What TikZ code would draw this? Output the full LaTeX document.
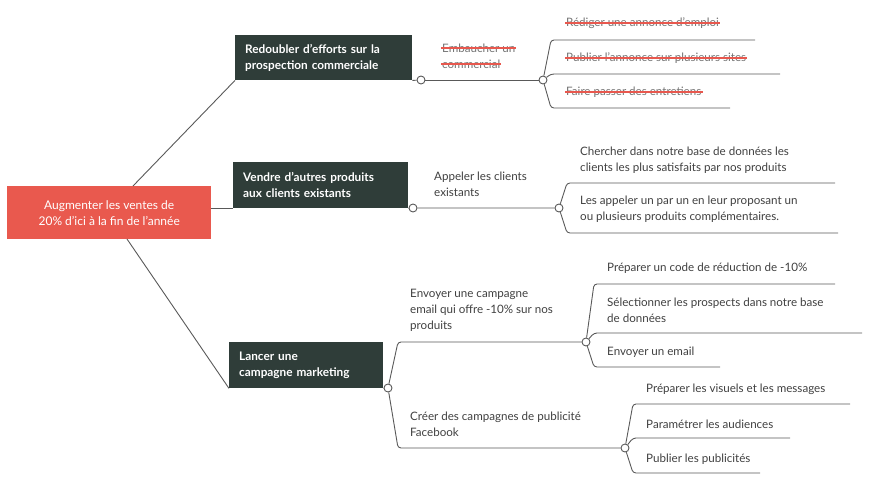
\documentclass[tikz,border=0pt]{standalone}
\usepackage{fontspec}
\setmainfont{Lato}
\begin{document}
\begin{tikzpicture}[x=1pt,y=-1pt,
  line/.style={draw=black!65,line width=0.9pt},
  dot/.style={circle,draw=black!65,line width=0.9pt,fill=white,minimum size=8pt,inner sep=0pt},
  box/.style={fill=darkbox,text=white,font=\fontsize{11.8}{16}\selectfont\bfseries,align=left,inner sep=0pt,anchor=north west},
  txt/.style={text=black!75,font=\fontsize{11.6}{16}\selectfont,anchor=west,inner sep=0pt,align=left},
  st/.style={text=black!55,font=\fontsize{11.6}{16}\selectfont,anchor=west,inner sep=0pt}]
\definecolor{darkbox}{HTML}{2F3D39}
\definecolor{redbox}{HTML}{E9594E}
\definecolor{strike}{HTML}{E8584E}
\useasboundingbox (0,0) rectangle (880,480);
% root
\node[fill=redbox,text=white,minimum width=204pt,minimum height=53pt,anchor=north west,align=center,inner sep=0pt,font=\fontsize{12}{16}\selectfont] (root) at (7,186) {Augmenter les ventes de\\20\% d’ici à la fin de l’année};
% level 1
\node[box,minimum width=177pt,minimum height=45pt,text width=165pt] (b1) at (235,35) {\hspace*{4pt}Redoubler d'efforts sur la\\\hspace*{4pt}prospection commerciale};
\node[box,minimum width=175pt,minimum height=46pt,text width=163pt] (b2) at (233,162) {\hspace*{4pt}Vendre d'autres produits\\\hspace*{4pt}aux clients existants};
\node[box,minimum width=154pt,minimum height=46pt,text width=142pt] (b3) at (229,342) {\hspace*{4pt}Lancer une\\\hspace*{4pt}campagne marketing};
\coordinate (r1) at (133,186);\coordinate (r3) at (127,239);
\draw[line] (r1) -- (b1.south west);
\draw[line] (root.east |- b2.south west) -- (b2.south west);
\draw[line] (r3) -- (b3.south west);
% branch 1
\node[dot] (c1) at (421,80) {};
\node[dot] (d1) at (543,80) {};
\draw[line] (b1.south east) -- (c1);
\draw[line] (c1) -- (d1);
\node[st] (e1) at (442,48) {Embaucher un};
\node[st] (e2) at (442,64) {commercial};
\foreach \n in {e1,e2}{\draw[strike,line width=1.4pt] ([xshift=-1pt]\n.west) -- ([xshift=1pt]\n.east);}
\coordinate (t1) at (755,40);\coordinate (t2) at (780,74);\coordinate (t3) at (730,108);
\draw[line,rounded corners=3pt] (d1) -- (551,40) -- (t1);
\draw[line,rounded corners=3pt] (d1) -- (551,74) -- (t2);
\draw[line,rounded corners=3pt] (d1) -- (551,108) -- (t3);
\node[st] (s1) at (566,23) {Rédiger une annonce d'emploi};
\node[st] (s2) at (566,58) {Publier l'annonce sur plusieurs sites};
\node[st] (s3) at (566,92) {Faire passer des entretiens};
\foreach \n in {s1,s2,s3}{\draw[strike,line width=1.4pt] ([xshift=-1pt]\n.west) -- ([xshift=1pt]\n.east);}
% branch 2
\node[dot] (c2) at (413,208) {};
\node[dot] (d2) at (559,208) {};
\draw[line] (b2.south east) -- (c2) -- (d2);
\node[txt] at (434,184) {Appeler les clients\\existants};
\coordinate (u1) at (835,183);\coordinate (u2) at (838,233);
\draw[line,rounded corners=3pt] (d2) -- (567,183) -- (u1);
\draw[line,rounded corners=3pt] (d2) -- (567,233) -- (u2);
\node[txt] at (580,160) {Chercher dans notre base de données les\\clients les plus satisfaits par nos produits};
\node[txt] at (580,209) {Les appeler un par un en leur proposant un\\ou plusieurs produits complémentaires.};
% branch 3
\node[dot] (c3) at (388,388) {};
\node[dot] (d3) at (586,342) {};
\node[dot] (d4) at (625,448) {};
\draw[line] (b3.south east) -- (c3);
\draw[line,rounded corners=3pt] (c3) -- (398,342) -- (d3);
\draw[line,rounded corners=3pt] (c3) -- (398,448) -- (d4);
\node[txt] at (410,310) {Envoyer une campagne\\email qui offre -10\% sur nos\\produits};
\node[txt] at (410,424) {Créer des campagnes de publicité\\Facebook};
\coordinate (v1) at (835,284);\coordinate (v2) at (862,333);\coordinate (v3) at (720,367);
\draw[line,rounded corners=3pt] (d3) -- (594,284) -- (v1);
\draw[line,rounded corners=3pt] (d3) -- (594,333) -- (v2);
\draw[line,rounded corners=3pt] (d3) -- (594,367) -- (v3);
\node[txt] at (607,268) {Préparer un code de réduction de -10\%};
\node[txt] at (607,310) {Sélectionner les prospects dans notre base\\de données};
\node[txt] at (607,352) {Envoyer un email};
\coordinate (w1) at (850,404);\coordinate (w2) at (790,438);\coordinate (w3) at (760,473);
\draw[line,rounded corners=3pt] (d4) -- (633,404) -- (w1);
\draw[line,rounded corners=3pt] (d4) -- (633,438) -- (w2);
\draw[line,rounded corners=3pt] (d4) -- (633,473) -- (w3);
\node[txt] at (646,389) {Préparer les visuels et les messages};
\node[txt] at (646,424) {Paramétrer les audiences};
\node[txt] at (646,459) {Publier les publicités};
\end{tikzpicture}
\end{document}
